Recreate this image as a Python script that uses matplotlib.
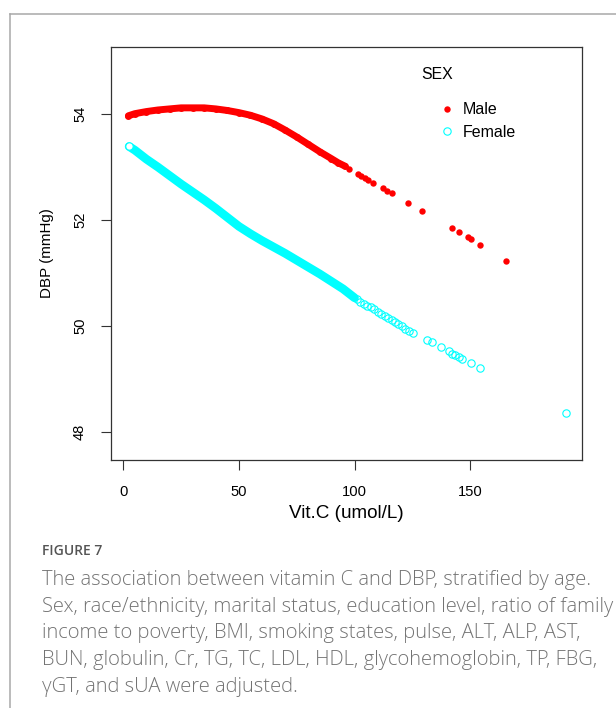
import matplotlib
matplotlib.use("Agg")
import matplotlib.pyplot as plt
from matplotlib.lines import Line2D

# ---- data ----
# dense part of each curve (points overlap into a band)
MALE_CURVE_X = [2.2, 5, 10, 15, 20, 25, 30, 35, 40, 45, 50, 55, 60, 65, 70, 75,
                80, 85, 90, 93, 95.8]
MALE_CURVE_Y = [53.97, 54.01, 54.05, 54.08, 54.10, 54.12, 54.12, 54.12, 54.10,
                54.07, 54.03, 53.98, 53.91, 53.82, 53.70, 53.57, 53.43, 53.29,
                53.16, 53.08, 53.02]
# separate male points
MALE_X = [97.7, 101.6, 103.0, 104.5, 106.0, 108.1, 112.1, 114.0, 116.0, 123.2,
          129.3, 142.2, 145.3, 149.2, 150.2, 154.2, 165.3]
MALE_Y = [52.97, 52.87, 52.84, 52.80, 52.76, 52.70, 52.60, 52.55, 52.51, 52.33,
          52.18, 51.84, 51.77, 51.67, 51.64, 51.53, 51.23]

FEMALE_CURVE_X = [2.5, 5, 10, 15, 20, 25, 30, 35, 40, 45, 50, 55, 60, 65, 70,
                  75, 80, 85, 90, 95, 100]
FEMALE_CURVE_Y = [53.39, 53.32, 53.15, 53.00, 52.84, 52.68, 52.53, 52.38, 52.22,
                  52.05, 51.88, 51.74, 51.61, 51.49, 51.37, 51.24, 51.11, 50.98,
                  50.84, 50.70, 50.53]
FEMALE_X = [101.0, 102.5, 104.0, 105.5, 107.0, 108.5, 110.0, 111.5, 113.0, 114.5,
            116.0, 117.5, 119.0, 120.5, 122.0, 123.5, 125.4, 131.3, 133.5, 137.5,
            140.7, 142.1, 143.5, 145.0, 146.4, 150.3, 154.3, 191.4]
FEMALE_Y = [50.50, 50.46, 50.42, 50.38, 50.35, 50.31, 50.27, 50.23, 50.19, 50.15,
            50.11, 50.07, 50.03, 49.99, 49.95, 49.91, 49.87, 49.74, 49.69, 49.60,
            49.53, 49.47, 49.44, 49.42, 49.38, 49.30, 49.20, 48.36]

X_TICKS = [0, 50, 100, 150]
Y_TICKS = [48, 50, 52, 54]

CAPTION_HEAD = "FIGURE 7"
CAPTION_LINES = [
    "The association between vitamin C and DBP, stratified by age.",
    "Sex, race/ethnicity, marital status, education level, ratio of family",
    "income to poverty, BMI, smoking states, pulse, ALT, ALP, AST,",
    "BUN, globulin, Cr, TG, TC, LDL, HDL, glycohemoglobin, TP, FBG,",
    "\u03b3GT, and sUA were adjusted.",
]

RED = "#ff0000"
CYAN = "#00ffff"
W, H = 616, 708

plt.rcParams["font.family"] = ["Liberation Sans", "DejaVu Sans"]

fig = plt.figure(figsize=(W / 100, H / 100), dpi=100)
fig.patch.set_facecolor("white")

# outer panel border (top + left)
fig.add_artist(Line2D([10 / W, 1], [1 - 13.5 / H, 1 - 13.5 / H],
                      transform=fig.transFigure, color="#a8a8a8", lw=1.1))
fig.add_artist(Line2D([10 / W, 10 / W], [0, 1 - 13.5 / H],
                      transform=fig.transFigure, color="#a8a8a8", lw=1.1))

ax = fig.add_axes([110.7 / W, 1 - 460 / H, (582.3 - 110.7) / W, (460 - 47) / H])

ax.plot(MALE_CURVE_X, MALE_CURVE_Y, color=RED, lw=5.0, marker="o", ms=5.0,
        mew=0, solid_capstyle="round", solid_joinstyle="round")
male_pts, = ax.plot(MALE_X, MALE_Y, ls="none", marker="o", ms=4.6, color=RED,
                    mew=0, label="Male")
ax.plot(FEMALE_CURVE_X, FEMALE_CURVE_Y, color=CYAN, lw=6.2,
        solid_capstyle="round", solid_joinstyle="round")
ax.plot(FEMALE_CURVE_X[:1], FEMALE_CURVE_Y[:1], ls="none", marker="o", ms=5.3,
        mfc="white", mec=CYAN, mew=0.8)
fem_pts, = ax.plot(FEMALE_X, FEMALE_Y, ls="none", marker="o", ms=5.3,
                   mfc="none", mec=CYAN, mew=0.8, label="Female")

ax.set_xlim(-5.45, 198.5)
ax.set_ylim(47.465, 55.27)
ax.set_xticks(X_TICKS)
ax.set_yticks(Y_TICKS)
ax.set_yticklabels([str(v) for v in Y_TICKS], rotation=90, va="center")
ax.tick_params(direction="out", length=7, width=0.8, color="#333333",
               labelsize=10.6, labelcolor="black")
ax.tick_params(axis="x", pad=11)
ax.tick_params(axis="y", pad=10)
for s in ax.spines.values():
    s.set_color("#333333")
    s.set_linewidth(0.9)

ax.set_xlabel("Vit.C (umol/L)", fontsize=13.6, labelpad=4)
ax.set_ylabel("DBP (mmHg)", fontsize=10.9, labelpad=14)

ax.text(0.6595, 0.9346, "SEX", transform=ax.transAxes, ha="left", va="center",
        fontsize=11.4)
ax.legend(handles=[male_pts, fem_pts], loc="center left",
          bbox_to_anchor=(0.6955, 0.821), frameon=False, fontsize=11.5,
          handlelength=1.0, handletextpad=0.5, labelspacing=0.45,
          borderpad=0, borderaxespad=0)

# caption
fig.text(42 / W, 1 - 551 / H, CAPTION_HEAD, family="Open Sans", fontsize=10,
         fontweight="semibold", color="#555555", va="center")
for i, line in enumerate(CAPTION_LINES):
    fig.text(42 / W, 1 - (580 + 26.7 * i) / H, line, family="Open Sans",
             fontsize=14.5, fontweight="light", color="#737373", va="center")

fig.savefig("out.png", dpi=100)
